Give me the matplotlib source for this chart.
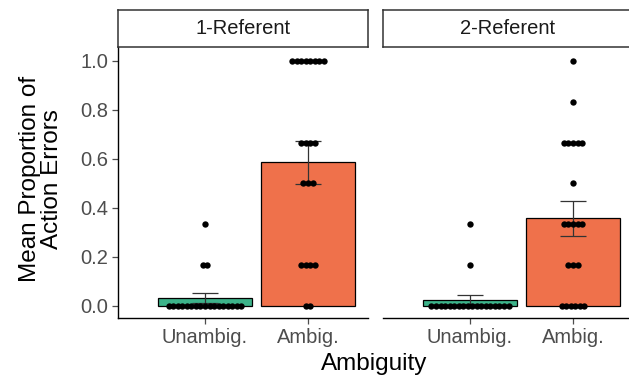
import matplotlib
matplotlib.use('Agg')
import matplotlib.pyplot as plt
import numpy as np

plt.rcParams['font.family'] = ['Liberation Sans', 'DejaVu Sans']

# Condition means and standard errors
panels = ['1-Referent', '2-Referent']
conditions = ['Unambig.', 'Ambig.']
bar_colors = ['#3db38a', '#ef714b']
means = {
    '1-Referent': [0.034, 0.587],
    '2-Referent': [0.026, 0.358],
}
ses = {
    '1-Referent': [0.020, 0.088],
    '2-Referent': [0.018, 0.072],
}

# Per-participant proportions
points = {
    '1-Referent': [
        [0.0] * 17 + [1/6] * 2 + [1/3],
        [1.0] * 8 + [2/3] * 4 + [0.5] * 3 + [1/6] * 4 + [0.0] * 2,
    ],
    '2-Referent': [
        [0.0] * 18 + [1/6] + [1/3],
        [1.0] + [5/6] + [2/3] * 5 + [0.5] + [1/3] * 5 + [1/6] * 3 + [0.0] * 6,
    ],
}

W, H = 629, 381
fig = plt.figure(figsize=(W / 100, H / 100), dpi=100)

tick_color = '#4d4d4d'
panel_left = [118, 383]
panel_w = 250
plot_top, plot_bottom = 47, 318
strip_top = 10

dot_step = 0.044  # horizontal spacing of stacked dots (data units)

for k, panel in enumerate(panels):
    x0 = panel_left[k]
    ax = fig.add_axes([x0 / W, 1 - plot_bottom / H, panel_w / W, (plot_bottom - plot_top) / H])
    xs = np.arange(len(conditions))
    ax.bar(xs, means[panel], width=0.91, color=bar_colors, edgecolor='black',
           linewidth=0.9, zorder=2)
    ax.errorbar(xs, means[panel], yerr=ses[panel], fmt='none', ecolor='#333333',
                elinewidth=0.9, capsize=9.5, capthick=0.9, zorder=3)

    # centred dot stacks, one row per distinct value
    for i, vals in enumerate(points[panel]):
        vals = np.array(vals)
        for v in np.unique(vals):
            n = int(np.sum(np.isclose(vals, v)))
            offs = (np.arange(n) - (n - 1) / 2) * dot_step
            ax.scatter(xs[i] + offs, np.full(n, v), s=21, color='black',
                       linewidths=0, zorder=4)

    ax.set_xlim(-0.845, 1.583)
    ax.set_ylim(-0.049, 1.057)
    ax.set_xticks(xs)
    ax.set_xticklabels(conditions)
    ax.spines['top'].set_visible(False)
    ax.spines['right'].set_visible(False)
    for s in ['left', 'bottom']:
        ax.spines[s].set_linewidth(1.0)
        ax.spines[s].set_color('black')
    ax.tick_params(axis='both', labelsize=14.5, colors=tick_color, length=4,
                   width=0.9, pad=3)
    if k == 0:
        ax.set_yticks([0, 0.2, 0.4, 0.6, 0.8, 1.0])
        ax.set_yticklabels(['0.0', '0.2', '0.4', '0.6', '0.8', '1.0'])
    else:
        ax.spines['left'].set_visible(False)
        ax.set_yticks([])

    # facet strip
    sax = fig.add_axes([x0 / W, 1 - plot_top / H, panel_w / W, (plot_top - strip_top) / H])
    sax.set_xticks([])
    sax.set_yticks([])
    for s in sax.spines.values():
        s.set_linewidth(1.1)
        s.set_color('#333333')
    sax.text(0.5, 0.5, panel, ha='center', va='center', fontsize=14.5,
             color='#1a1a1a', transform=sax.transAxes)

fig.text(41 / W, 1 - 179 / H, 'Mean Proportion of\nAction Errors', rotation=90,
         ha='center', va='center', fontsize=17.5, linespacing=1.02)
fig.text(374 / W, 1 - 364 / H, 'Ambiguity', ha='center', va='center', fontsize=17.5)

fig.savefig('out.png', dpi=100)
